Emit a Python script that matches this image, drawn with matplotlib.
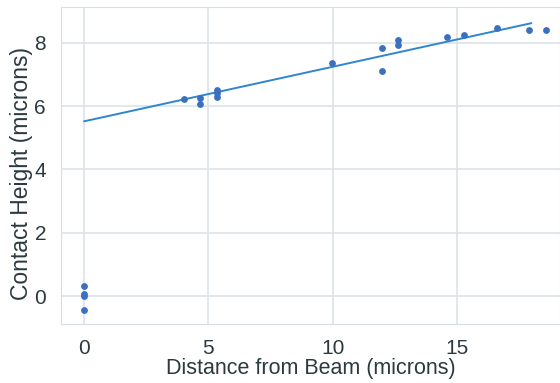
import matplotlib
matplotlib.use("Agg")
import matplotlib.pyplot as plt
import seaborn as sns

sns.set_style("whitegrid")
plt.rcParams['font.family'] = ['Liberation Sans', 'DejaVu Sans']

dist = [0, 0, 0, 0, 4.03, 4.67, 4.67, 5.34, 5.34, 5.34, 9.99, 11.97, 11.97,
        12.64, 12.64, 14.6, 15.27, 16.6, 17.92, 18.6]
height = [0.32, 0.08, 0.01, -0.43, 6.24, 6.25, 6.08, 6.52, 6.41, 6.29, 7.35,
          7.85, 7.12, 8.08, 7.93, 8.17, 8.25, 8.48, 8.41, 8.40]
fit_x = [0, 18.0]
fit_y = [5.52, 8.62]
xticks = [0, 5, 10, 15]
yticks = [0, 2, 4, 6, 8]

fig = plt.figure(figsize=(5.6, 3.83), dpi=100)
ax = fig.add_axes([60.7/560, (383-324)/383, (560-60.7)/560, (324-7)/383])
ax.scatter(dist, height, s=24, color='#3b6fbf', zorder=3, linewidths=0)
ax.plot(fit_x, fit_y, color='#2f86cf', lw=1.4, zorder=2)
ax.set_xlim(-0.94, 19.15)
ax.set_ylim(-0.88, 9.13)
ax.set_xticks(xticks)
ax.set_yticks(yticks)
ax.tick_params(labelsize=15, colors='#2b3a40', pad=7)
ax.set_xlabel('Distance from Beam (microns)', fontsize=15.5, color='#2b3a40', labelpad=0)
ax.set_ylabel('Contact Height (microns)', fontsize=16.5, color='#2b3a40')
ax.yaxis.set_label_coords(-0.056, 0.476)
for s in ax.spines.values():
    s.set_color('#d5dde5')
ax.grid(color='#dde3e8', lw=1.2)
fig.savefig('out.png', dpi=100)
